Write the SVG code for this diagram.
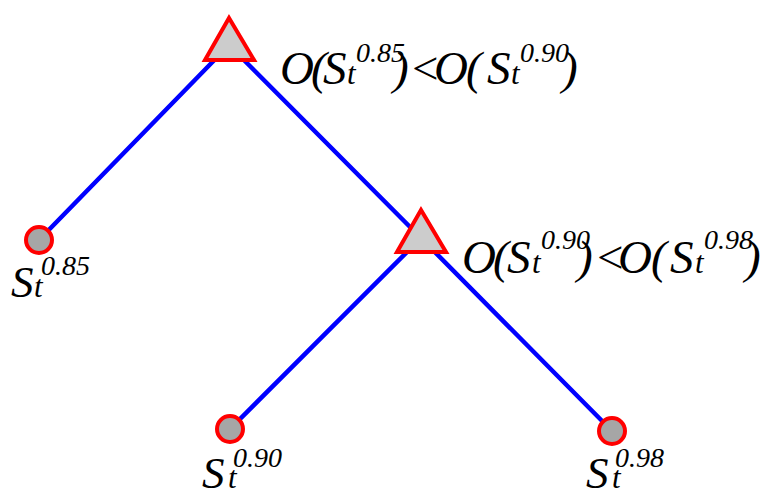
<svg xmlns="http://www.w3.org/2000/svg" width="763" height="490" viewBox="0 0 763 490">
<style>
.edge{stroke:#0000FF;stroke-width:4.5;fill:none;stroke-linecap:round}
.tri{fill:#CCCCCC;stroke:#FF0000;stroke-width:4;stroke-linejoin:miter}
.leaf{fill:#A6A6A6;stroke:#FF0000;stroke-width:4}
.big{font-size:47px}
.lbig{font-size:45px}
.sub{font-size:31px}
.sup{font-size:28px}
</style>
<rect width="763" height="490" fill="#FFFFFF"/>
<g id="connectors">
<line class="edge" x1="229" y1="45" x2="39" y2="240"/>
<line class="edge" x1="229" y1="45" x2="421" y2="238"/>
<line class="edge" x1="421" y1="238" x2="230" y2="429"/>
<line class="edge" x1="421" y1="238" x2="612" y2="431"/>
</g>
<g id="decision1">
<polygon class="tri" points="229,18 205,60 254,60"/>
<text class="big" style="font-family:'Liberation Serif','Times New Roman',serif;font-style:italic" fill="#000" y="84"><tspan x="280">O</tspan><tspan x="311">(</tspan><tspan x="323">S</tspan><tspan class="sub" x="347">t</tspan><tspan class="sup" x="356" y="62">0.85</tspan><tspan x="393" y="84">)</tspan><tspan x="409">&lt;</tspan><tspan x="434">O</tspan><tspan x="466">(</tspan><tspan x="487">S</tspan><tspan class="sub" x="511">t</tspan><tspan class="sup" x="520" y="62">0.90</tspan><tspan x="562" y="84">)</tspan></text>
</g>
<g id="decision2">
<polygon class="tri" points="421,210 397,252 446,252"/>
<text class="big" style="font-family:'Liberation Serif','Times New Roman',serif;font-style:italic" fill="#000" y="273"><tspan x="462">O</tspan><tspan x="493">(</tspan><tspan x="507">S</tspan><tspan class="sub" x="532">t</tspan><tspan class="sup" x="541" y="249">0.90</tspan><tspan x="577" y="273">)</tspan><tspan x="594">&lt;</tspan><tspan x="618">O</tspan><tspan x="651">(</tspan><tspan x="670">S</tspan><tspan class="sub" x="695">t</tspan><tspan class="sup" x="704" y="249">0.98</tspan><tspan x="745" y="273">)</tspan></text>
</g>
<g id="leaf085">
<circle class="leaf" cx="39" cy="240" r="13"/>
<text class="lbig" style="font-family:'Liberation Serif','Times New Roman',serif;font-style:italic" fill="#000" y="297"><tspan x="11">S</tspan><tspan class="sub" x="34">t</tspan><tspan class="sup" x="41" y="275">0.85</tspan></text>
</g>
<g id="leaf090">
<circle class="leaf" cx="230" cy="429" r="13"/>
<text class="lbig" style="font-family:'Liberation Serif','Times New Roman',serif;font-style:italic" fill="#000" y="488"><tspan x="202">S</tspan><tspan class="sub" x="228">t</tspan><tspan class="sup" x="233" y="467">0.90</tspan></text>
</g>
<g id="leaf098">
<circle class="leaf" cx="612" cy="431" r="13"/>
<text class="lbig" style="font-family:'Liberation Serif','Times New Roman',serif;font-style:italic" fill="#000" y="488"><tspan x="586">S</tspan><tspan class="sub" x="612">t</tspan><tspan class="sup" x="615" y="467">0.98</tspan></text>
</g>
</svg>
